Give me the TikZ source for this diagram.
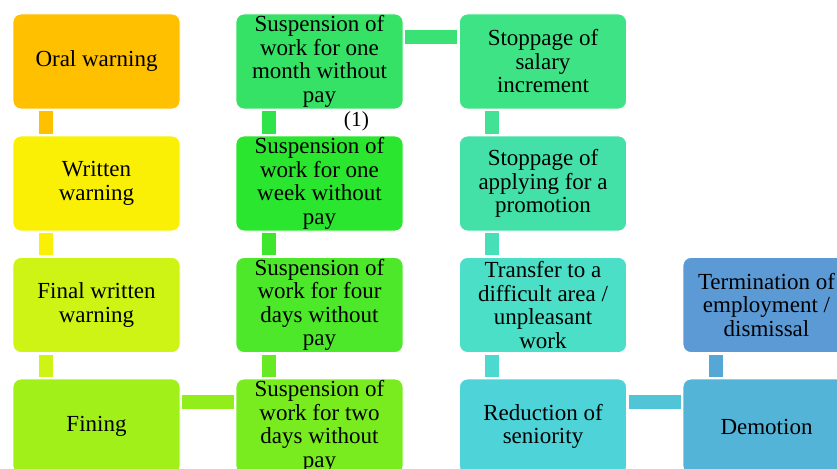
\documentclass[tikz,border=0pt]{standalone}
\usepackage{fontspec}
\setmainfont{Liberation Serif}

\definecolor{cOral}{HTML}{FFC000}
\definecolor{cWritten}{HTML}{FAF005}
\definecolor{cFinal}{HTML}{CDF414}
\definecolor{cFining}{HTML}{A2F019}
\definecolor{cTwo}{HTML}{79EC1F}
\definecolor{cFour}{HTML}{4DE82A}
\definecolor{cWeek}{HTML}{2AE62E}
\definecolor{cMonth}{HTML}{35E266}
\definecolor{cSalary}{HTML}{3EE386}
\definecolor{cPromo}{HTML}{43E0A7}
\definecolor{cTransfer}{HTML}{4ADFC6}
\definecolor{cSenior}{HTML}{4ED3D9}
\definecolor{cDemote}{HTML}{53B4D8}
\definecolor{cTerm}{HTML}{5B9AD5}

\begin{document}
\begin{tikzpicture}[x=1pt, y=-1pt,
    box/.style = {draw=white, line width=0.8pt, rounded corners=8pt,
                  minimum width=167pt, minimum height=95pt, inner sep=0pt,
                  align=center, font=\fontsize{23}{23.5}\selectfont},
    link/.style = {line width=14pt, shorten <=2pt, shorten >=2pt}]
                \useasboundingbox (0,0) rectangle (837,468);
                \clip (0,0) rectangle (837,468);
                \node[box, fill=cOral]     (oral)     at (96.5,61.5)  {Oral warning};
                \node[box, fill=cWritten]  (written)  at (96.5,183.5) {Written\\warning};
                \node[box, fill=cFinal]    (final)    at (96.5,305)   {Final written\\warning};
                \node[box, fill=cFining]   (fining)   at (96.5,426.5) {Fining};
                \node[box, fill=cTwo]      (twodays)  at (319.5,426.5) {Suspension of\\work for two\\days without\\pay};
                \node[box, fill=cFour]     (fourdays) at (319.5,305)   {Suspension of\\work for four\\days without\\pay};
                \node[box, fill=cWeek]     (oneweek)  at (319.5,183.5) {Suspension of\\work for one\\week without\\pay};
                \node[box, fill=cMonth]    (onemonth) at (319.5,61.5)  {Suspension of\\work for one\\month without\\pay};
                \node[box, fill=cSalary]   (salary)   at (543,61.5)  {Stoppage of\\salary\\increment};
                \node[box, fill=cPromo]    (promo)    at (543,183.5) {Stoppage of\\applying for a\\promotion};
                \node[box, fill=cTransfer] (transfer) at (543,305)   {Transfer to a\\difficult area /\\unpleasant\\work};
                \node[box, fill=cSenior]   (senior)   at (543,426.5) {Reduction of\\seniority};
                \node[box, fill=cDemote]   (demote)   at (766.5,426.5) {Demotion};
                \node[box, fill=cTerm]     (term)     at (766.5,305)   {Termination of\\employment /\\dismissal};
                \node[font=\fontsize{21.5}{23}\selectfont] (note) at (356.5,121.5) {(1)};
                \draw[link, cOral]     ([xshift=33pt]oral.south west)     -- ([xshift=33pt]written.north west);
                \draw[link, cWritten]  ([xshift=33pt]written.south west)  -- ([xshift=33pt]final.north west);
                \draw[link, cFinal]    ([xshift=33pt]final.south west)    -- ([xshift=33pt]fining.north west);
                \draw[link, cFining!60!cTwo] ([yshift=-23pt]fining.north east) -- ([yshift=-23pt]twodays.north west);
                \draw[link, cTwo!60!cFour]   ([xshift=33pt]twodays.north west) -- ([xshift=33pt]fourdays.south west);
                \draw[link, cFour!60!cWeek]  ([xshift=33pt]fourdays.north west) -- ([xshift=33pt]oneweek.south west);
                \draw[link, cWeek!50!cMonth] ([xshift=33pt]oneweek.north west) -- ([xshift=33pt]onemonth.south west);
                \draw[link, cMonth!50!cSalary] ([yshift=-23pt]onemonth.north east) -- ([yshift=-23pt]salary.north west);
                \draw[link, cSalary!50!cPromo] ([xshift=33pt]salary.south west) -- ([xshift=33pt]promo.north west);
                \draw[link, cPromo!50!cTransfer] ([xshift=33pt]promo.south west) -- ([xshift=33pt]transfer.north west);
                \draw[link, cTransfer!50!cSenior] ([xshift=33pt]transfer.south west) -- ([xshift=33pt]senior.north west);
                \draw[link, cSenior!50!cDemote] ([yshift=-23pt]senior.north east) -- ([yshift=-23pt]demote.north west);
                \draw[link, cDemote!50!cTerm] ([xshift=33pt]demote.north west) -- ([xshift=33pt]term.south west);
            \end{tikzpicture}
\end{document}
